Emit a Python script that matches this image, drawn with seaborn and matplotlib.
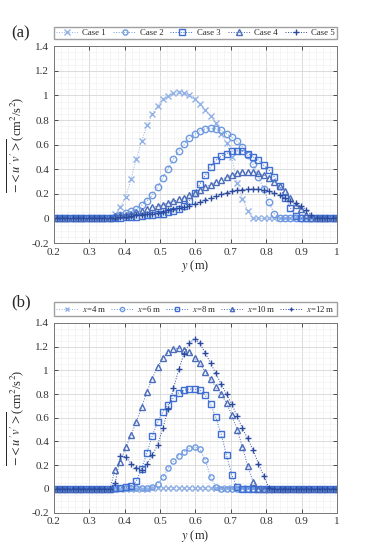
import matplotlib
import matplotlib.pyplot as plt
import numpy as np
import pandas as pd
import seaborn as sns
from matplotlib.ticker import MultipleLocator, FormatStrFormatter

matplotlib.use("Agg")

# sampling positions across the channel (m)
y_pos = np.round(0.193 + 0.015 * np.arange(55), 3)

# panel (a): five cases
case1 = [0.0] * 12 + [0.037, 0.095, 0.176, 0.317, 0.482, 0.628, 0.756, 0.845, 0.915, 0.969,
                      0.999, 1.016, 1.024, 1.018, 1.002, 0.969, 0.929, 0.880, 0.831, 0.775,
                      0.690, 0.614, 0.496, 0.290, 0.160, 0.060, 0.0] + [0.0] * 16
case2 = [0.0] * 12 + [0.015, 0.030, 0.043, 0.057, 0.080, 0.108, 0.143, 0.190, 0.257, 0.330,
                      0.406, 0.482, 0.550, 0.604, 0.653, 0.685, 0.712, 0.728, 0.734, 0.731,
                      0.715, 0.688, 0.663, 0.628, 0.582, 0.515, 0.440, 0.340, 0.240, 0.130,
                      0.040] + [0.0] * 12
case3 = [0.0] * 12 + [0.0, 0.005, 0.010, 0.012, 0.015, 0.020, 0.025, 0.030, 0.035, 0.040,
                      0.050, 0.060, 0.075, 0.100, 0.140, 0.210, 0.280, 0.350, 0.418, 0.474,
                      0.506, 0.528, 0.547, 0.550, 0.547, 0.528, 0.501, 0.474, 0.433, 0.393,
                      0.338, 0.260, 0.170, 0.088, 0.020] + [0.0] * 8
case4 = [0.0] * 12 + [0.020, 0.025, 0.030, 0.040, 0.050, 0.060, 0.075, 0.090, 0.100, 0.110,
                      0.125, 0.140, 0.155, 0.170, 0.190, 0.210, 0.235, 0.255, 0.275, 0.295,
                      0.315, 0.335, 0.355, 0.366, 0.374, 0.376, 0.376, 0.371, 0.352, 0.325,
                      0.298, 0.263, 0.225, 0.170, 0.110, 0.080, 0.030] + [0.0] * 6
case5 = [0.0] * 12 + [0.005, 0.010, 0.015, 0.020, 0.025, 0.030, 0.035, 0.040, 0.045, 0.055,
                      0.065, 0.075, 0.085, 0.095, 0.105, 0.118, 0.130, 0.150, 0.168, 0.180,
                      0.195, 0.208, 0.220, 0.230, 0.235, 0.238, 0.238, 0.236, 0.230, 0.222,
                      0.208, 0.190, 0.163, 0.141, 0.122, 0.100, 0.073, 0.027] + [0.0] * 5

# panel (b): five downstream stations
x4 = [0.0] * 19 + [0.010] * 21 + [0.0] * 15
x6 = [0.0] * 13 + [0.010, 0.010, 0.010, 0.010, 0.010, 0.010, 0.020, 0.040, 0.096, 0.172,
                   0.234, 0.280, 0.313, 0.341, 0.355, 0.333, 0.243, 0.100, 0.020] + [0.0] * 23
x8 = [0.0] * 12 + [0.010, 0.010, 0.015, 0.023, 0.065, 0.170, 0.304, 0.447, 0.560, 0.650,
                   0.710, 0.768, 0.810, 0.833, 0.841, 0.841, 0.833, 0.790, 0.714, 0.602,
                   0.460, 0.285, 0.116, 0.020] + [0.0] * 19
x10 = [0.0] * 12 + [0.158, 0.228, 0.350, 0.453, 0.565, 0.690, 0.820, 0.930, 1.029, 1.100,
                    1.150, 1.178, 1.184, 1.175, 1.150, 1.105, 1.058, 0.987, 0.923, 0.860,
                    0.799, 0.725, 0.620, 0.500, 0.355, 0.192, 0.060] + [0.0] * 16
x12 = [0.0] * 12 + [0.046, 0.279, 0.270, 0.214, 0.172, 0.160, 0.206, 0.282, 0.369, 0.510,
                    0.672, 0.847, 1.007, 1.140, 1.226, 1.268, 1.226, 1.147, 1.058, 0.973,
                    0.883, 0.796, 0.714, 0.613, 0.510, 0.425, 0.327, 0.214, 0.110, 0.010] + [0.0] * 13

labels_a = ["Case 1", "Case 2", "Case 3", "Case 4", "Case 5"]
labels_b = ["$x$=4 m", "$x$=6 m", "$x$=8 m", "$x$=10 m", "$x$=12 m"]
markers = ["x", "o", "s", "^", "+"]
colors = ["#94b2e6", "#6f9ae0", "#3f6fd2", "#4a6cba", "#2a4a9e"]

sns.set_style("ticks")
plt.rcParams["font.family"] = ["Liberation Serif", "DejaVu Serif"]
plt.rcParams["mathtext.fontset"] = "stix"

fig = plt.figure(figsize=(3.69, 5.5), dpi=100)
ax_a = fig.add_axes([0.146, 0.558, 0.767, 0.358])
ax_b = fig.add_axes([0.146, 0.068, 0.767, 0.345])


def draw_panel(ax, series, labels, msize):
    for vals, lab, mk, col in zip(series, labels, markers, colors):
        df = pd.DataFrame({"y": y_pos, "uv": vals})
        face = col if mk in ("x", "+") else "none"
        sns.lineplot(data=df, x="y", y="uv", ax=ax, color=col, linestyle=":",
                     linewidth=0.7, marker=mk, markersize=msize, markerfacecolor=face,
                     markeredgecolor=col, markeredgewidth=1.0, label=lab)
    ax.set_xlim(0.2, 1.0)
    ax.set_ylim(-0.2, 1.4)
    ax.xaxis.set_major_locator(MultipleLocator(0.1))
    ax.xaxis.set_minor_locator(MultipleLocator(0.02))
    ax.yaxis.set_major_locator(MultipleLocator(0.2))
    ax.yaxis.set_minor_locator(MultipleLocator(0.05))
    ax.xaxis.set_major_formatter(FormatStrFormatter("%g"))
    ax.yaxis.set_major_formatter(FormatStrFormatter("%g"))
    ax.grid(which="major", color="#d6d6d6", linewidth=0.6)
    ax.grid(which="minor", color="#eeeeee", linewidth=0.4)
    ax.set_axisbelow(True)
    ax.tick_params(which="major", direction="in", length=3, top=True, right=True,
                   labelsize=8, colors="#333333", width=0.6)
    ax.tick_params(which="minor", length=0)
    for s in ax.spines.values():
        s.set_color("#777777")
        s.set_linewidth(0.7)
    ax.set_xlabel("$y$ (m)", fontsize=9, labelpad=1)
    ax.set_ylabel(r"$\overline{-<u'v'>}$(cm$^2$/s$^2$)", fontsize=9, labelpad=4)
    ax.legend(loc="lower left", bbox_to_anchor=(0, 1.035, 1, 0.06), mode="expand", ncol=5,
              fontsize=6.3, frameon=True, fancybox=False, edgecolor="#888888",
              handlelength=2.6, handletextpad=0.4, borderpad=0.25, columnspacing=0.6,
              borderaxespad=0, markerscale=0.8)


draw_panel(ax_a, [case1, case2, case3, case4, case5], labels_a, 4.6)
draw_panel(ax_b, [x4, x6, x8, x10, x12], labels_b, 3.8)

fig.text(0.03, 0.94, "(a)", fontsize=12, va="center")
fig.text(0.03, 0.45, "(b)", fontsize=12, va="center")

plt.savefig("out.png", dpi=100)
